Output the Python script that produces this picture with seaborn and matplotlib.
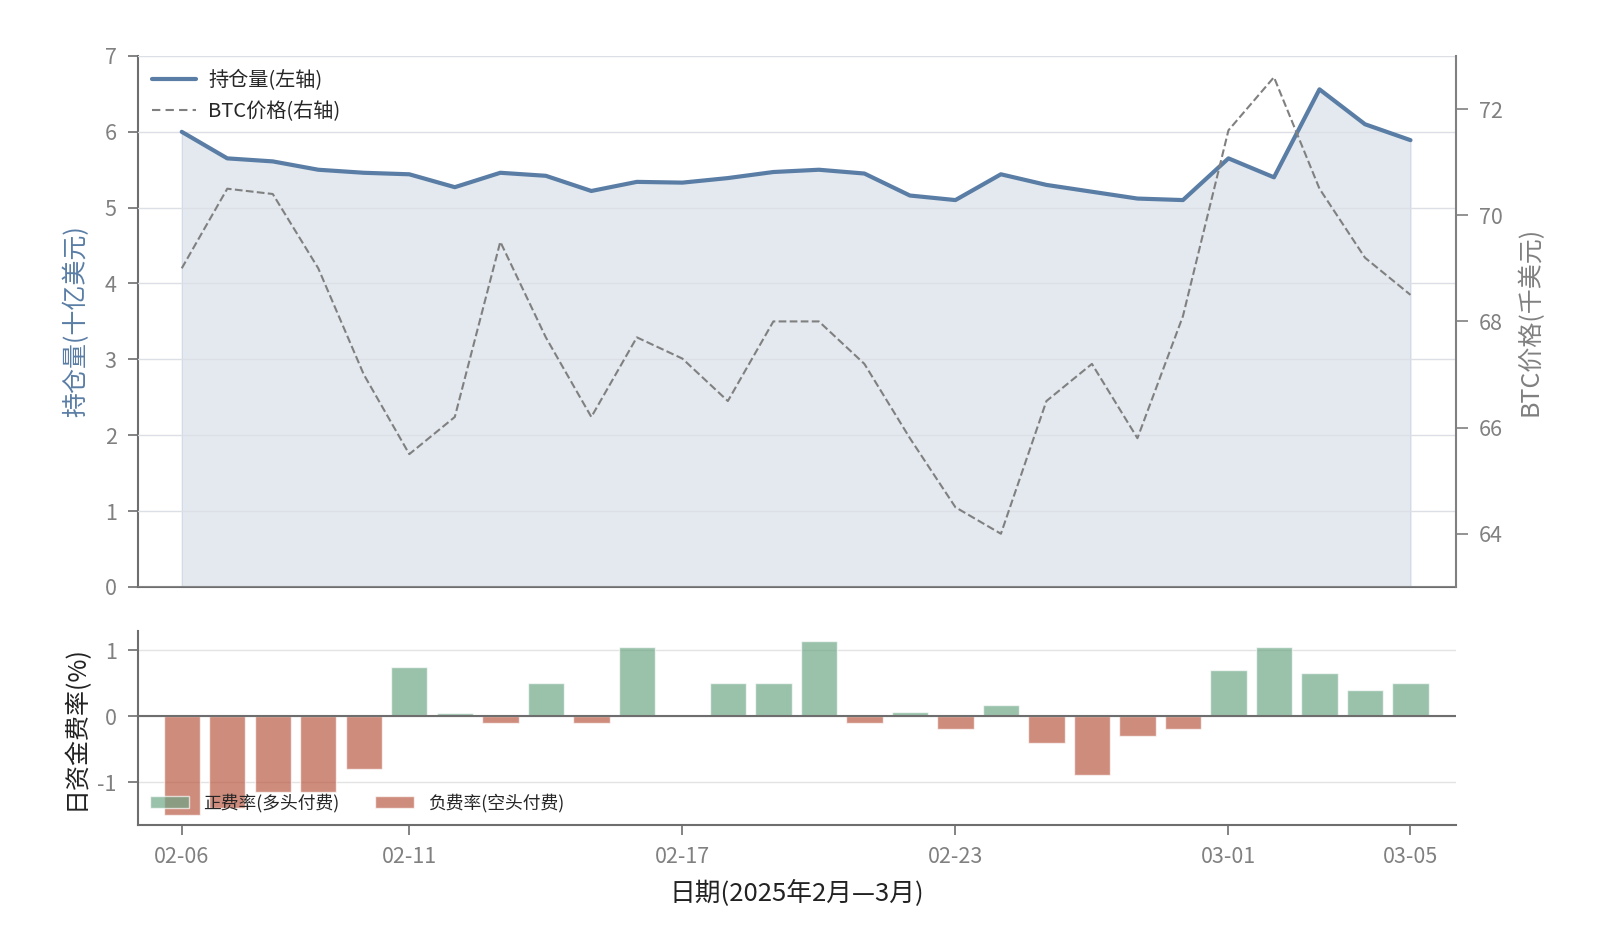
import numpy as np
import pandas as pd
import matplotlib.pyplot as plt
import seaborn as sns
from matplotlib.lines import Line2D
from matplotlib.patches import Patch

# 2025-02-06 .. 2025-03-05, one value per day
days = list(range(28))
tick_pos = [0, 5, 11, 17, 23, 27]
tick_labels = ['02-06', '02-11', '02-17', '02-23', '03-01', '03-05']

holdings = [6.00, 5.65, 5.61, 5.50, 5.46, 5.44, 5.27, 5.46, 5.42, 5.22,
            5.34, 5.33, 5.39, 5.47, 5.50, 5.45, 5.16, 5.10, 5.44, 5.30,
            5.21, 5.12, 5.10, 5.65, 5.40, 6.56, 6.10, 5.89]
btc_price = [69.0, 70.5, 70.4, 69.0, 67.0, 65.5, 66.2, 69.5, 67.7, 66.2,
             67.7, 67.3, 66.5, 68.0, 68.0, 67.2, 65.8, 64.5, 64.0, 66.5,
             67.2, 65.8, 68.1, 71.6, 72.6, 70.5, 69.2, 68.5]
funding = [-1.5, -1.4, -1.15, -1.15, -0.8, 0.75, 0.05, -0.1, 0.5, -0.1,
           1.05, 0.0, 0.5, 0.5, 1.15, -0.1, 0.07, -0.2, 0.17, -0.4,
           -0.9, -0.3, -0.2, 0.7, 1.05, 0.66, 0.4, 0.5]

blue = '#5a7da5'
grey = '#808080'
green = '#6aa583'
red = '#b8563f'
tick_grey = '#808080'
spine_grey = '#6e6e6e'

sns.set_theme(style='white')
plt.rcParams['font.family'] = ['Noto Sans CJK SC', 'DejaVu Sans']
plt.rcParams['font.weight'] = 'light'
plt.rcParams['axes.unicode_minus'] = False

df = pd.DataFrame({'day': days, 'holdings': holdings, 'btc': btc_price, 'funding': funding})
df['sign'] = np.where(df['funding'] >= 0, 'pos', 'neg')

fig = plt.figure(figsize=(16, 9.33), dpi=100)
ax1 = fig.add_axes([0.086, 0.371, 0.824, 0.569])
ax2 = fig.add_axes([0.086, 0.116, 0.824, 0.208], sharex=ax1)
ax1r = ax1.twinx()

# top panel: holdings area + line, BTC price on the right axis
ax1.fill_between(df['day'], 0, df['holdings'], color=blue, alpha=0.17, zorder=1)
sns.lineplot(data=df, x='day', y='holdings', ax=ax1, color=blue, linewidth=3, zorder=3)
sns.lineplot(data=df, x='day', y='btc', ax=ax1r, color=grey, linewidth=1.5,
             linestyle='--', dashes=(4, 2.5))

ax1.set_ylim(0, 7)
ax1.set_yticks(range(0, 8))
ax1r.set_ylim(63, 73)
ax1r.set_yticks([64, 66, 68, 70, 72])
ax1.set_xlim(-0.97, 28.0)
ax1.grid(axis='y', color='#dcdfe5', linewidth=1)
ax1.set_axisbelow(False)
ax1.set_ylabel('持仓量(十亿美元)', color=blue, fontsize=18, labelpad=11)
ax1r.set_ylabel('BTC价格(千美元)', color=grey, fontsize=18, labelpad=10)
ax1.set_xlabel('')
ax1.tick_params(axis='x', bottom=False, labelbottom=False)
ax1.tick_params(axis='y', left=True, direction='out', length=7, width=1.2, pad=8,
                color=spine_grey, labelcolor=tick_grey, labelsize=15.5)
ax1r.tick_params(axis='y', right=True, direction='out', length=8.5, width=1.2, pad=8,
                 color=grey, labelcolor=tick_grey, labelsize=15.5)
ax1.spines['top'].set_visible(False)
ax1r.spines['top'].set_visible(False)
ax1r.spines['left'].set_visible(False)
ax1r.spines['bottom'].set_visible(False)
ax1.spines['right'].set_visible(False)
ax1r.spines['right'].set_color(grey)
ax1r.spines['right'].set_linewidth(1.5)
ax1.spines['left'].set_color(spine_grey)
ax1.spines['left'].set_linewidth(1.5)
ax1.spines['bottom'].set_color(spine_grey)
ax1.spines['bottom'].set_linewidth(1.5)

handles = [Line2D([], [], color=blue, linewidth=3),
           Line2D([], [], color=grey, linewidth=1.5, linestyle='--', dashes=(4, 2.5))]
ax1r.legend(handles, ['持仓量(左轴)', 'BTC价格(右轴)'], loc='upper left',
            frameon=False, fontsize=14.5, handlelength=2.2, handletextpad=0.6,
            labelspacing=0.5, borderaxespad=0.3)

# bottom panel: daily funding rate
sns.barplot(data=df, x='day', y='funding', hue='sign', ax=ax2,
            palette={'pos': green, 'neg': red}, dodge=False, native_scale=True,
            saturation=1, alpha=0.68, width=0.8, errorbar=None, legend=False, zorder=2)
ax2.axhline(0, color=spine_grey, linewidth=1.5, zorder=3)
ax2.set_ylim(-1.65, 1.3)
ax2.set_yticks([-1, 0, 1])
ax2.set_xlim(-0.97, 28.0)
ax2.set_xticks(tick_pos)
ax2.set_xticklabels(tick_labels)
ax2.grid(axis='y', color='#e3e3e3', linewidth=1)
ax2.set_axisbelow(True)
ax2.set_ylabel('日资金费率(%)', fontsize=18, color='#222222', labelpad=6)
ax2.set_xlabel('日期(2025年2月—3月)', fontsize=18.5, color='#222222', labelpad=8)
ax2.tick_params(axis='x', bottom=True, direction='out', length=7, width=1.2, pad=8,
                color=spine_grey, labelcolor=tick_grey, labelsize=15.5)
ax2.tick_params(axis='y', left=True, direction='out', length=7, width=1.2, pad=8,
                color=spine_grey, labelcolor=tick_grey, labelsize=15.5)
ax2.spines['top'].set_visible(False)
ax2.spines['right'].set_visible(False)
ax2.spines['left'].set_color(spine_grey)
ax2.spines['left'].set_linewidth(1.5)
ax2.spines['bottom'].set_color(spine_grey)
ax2.spines['bottom'].set_linewidth(1.5)

bar_handles = [Patch(facecolor=green, alpha=0.68), Patch(facecolor=red, alpha=0.68)]
ax2.legend(bar_handles, ['正费率(多头付费)', '负费率(空头付费)'], loc='lower left',
           ncol=2, frameon=False, fontsize=12.8, handlelength=2.2, columnspacing=2.0,
           borderaxespad=0.3)

fig.savefig('out.png', dpi=100)
